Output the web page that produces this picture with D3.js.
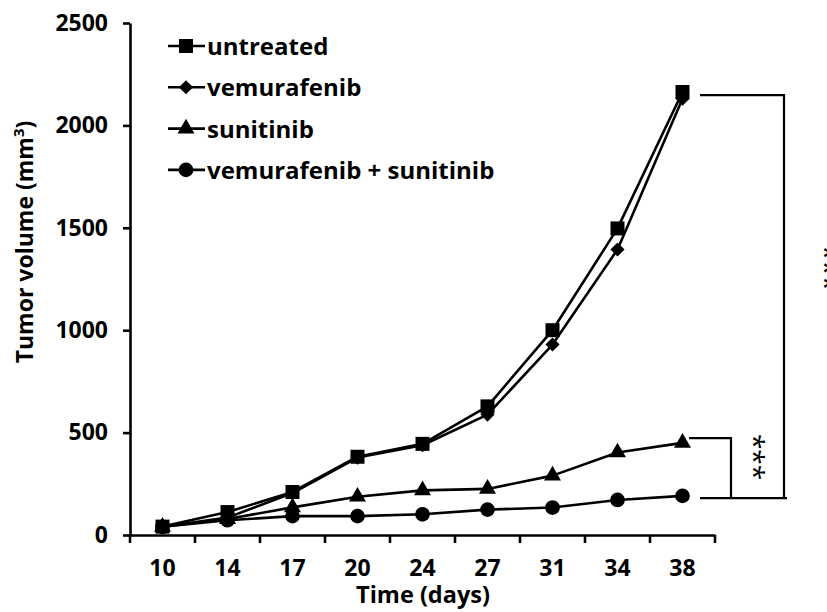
<!DOCTYPE html>
<html>
<head>
<meta charset="utf-8">
<script src="https://cdn.jsdelivr.net/npm/d3@7"></script>
<style>
  html, body { margin: 0; padding: 0; background: #fff; }
  svg { display: block; font-family: "Open Sans", sans-serif; font-weight: bold; }
</style>
</head>
<body>
<svg id="chart" width="827" height="612"></svg>
<script>
// Tumor growth over time per treatment group
const days = ["10", "14", "17", "20", "24", "27", "31", "34", "38"];
const untreated   = [41, 112, 210, 382, 445, 628, 1000, 1497, 2163];
const vemurafenib = [40, 85, 205, 378, 438, 588, 930, 1394, 2130];
const sunitinib   = [40, 78, 135, 187, 218, 225, 290, 403, 450];
const combination = [40, 72, 92, 92, 101, 124, 134, 171, 191];
const seriesNames = ["untreated", "vemurafenib", "sunitinib", "vemurafenib + sunitinib"];
const markerTypes = ["square", "diamond", "triangle", "circle"];
const yTicks = [0, 500, 1000, 1500, 2000, 2500];
// Significance brackets (in mm³ units)
const outerBracket = { top: 2148, bottom: 180, label: "***" };
const innerBracket = { top: 473, bottom: 180, label: "***" };

const seriesValues = [untreated, vemurafenib, sunitinib, combination];

const svg = d3.select("#chart");
const plotLeft = 130, plotRight = 715, plotTop = 23, plotBottom = 535;
const FONT = "'Open Sans', sans-serif";

const x = d3.scaleBand().domain(days).range([plotLeft, plotRight]).padding(0);
const y = d3.scaleLinear().domain([0, 2500]).range([plotBottom, plotTop]);
const cx = d => x(d) + x.bandwidth() / 2;

// marker shapes; the diamond is a square turned by 45 degrees
const markerDefs = {
  square:   { path: d3.symbol(d3.symbolSquare, 196)(), rot: 0 },
  diamond:  { path: d3.symbol(d3.symbolSquare, 100)(), rot: 45 },
  triangle: { path: d3.symbol(d3.symbolTriangle, 125)(), rot: 0 },
  circle:   { path: d3.symbol(d3.symbolCircle, 170)(), rot: 0 }
};

// Axes
const yAxis = svg.append("g")
  .attr("transform", `translate(${plotLeft},0)`)
  .call(d3.axisLeft(y).tickValues(yTicks).tickFormat(d3.format("d"))
    .tickSize(7).tickSizeOuter(0).tickPadding(15));
yAxis.select(".domain").attr("stroke", "#000").attr("stroke-width", 2.6);
yAxis.selectAll(".tick line").attr("stroke", "#000").attr("stroke-width", 2.6);
yAxis.selectAll(".tick text")
  .attr("fill", "#000").style("font-size", "23px").style("font-family", FONT).style("font-weight", "bold");

const xAxis = svg.append("g")
  .attr("transform", `translate(0,${plotBottom})`)
  .call(d3.axisBottom(x).tickSize(0).tickSizeOuter(0).tickPadding(25));
xAxis.select(".domain").attr("stroke", "#000").attr("stroke-width", 2.6);
xAxis.selectAll(".tick text")
  .attr("fill", "#000").style("font-size", "23px").style("font-family", FONT).style("font-weight", "bold");
// tick marks on category boundaries
const boundaries = days.map(d => x(d)).concat([x.range()[1]]);
xAxis.selectAll(".boundary")
  .data(boundaries)
  .enter().append("line")
  .attr("x1", d => d).attr("x2", d => d)
  .attr("y1", 0).attr("y2", 8)
  .attr("stroke", "#000").attr("stroke-width", 2.6);

// Axis titles
svg.append("text")
  .attr("x", 423).attr("y", 603)
  .attr("text-anchor", "middle")
  .style("font-size", "23.5px")
  .text("Time (days)");

const yTitle = svg.append("text")
  .attr("transform", `translate(33,242) rotate(-90)`)
  .attr("text-anchor", "middle")
  .style("font-size", "23px");
yTitle.append("tspan").text("Tumor volume (mm");
yTitle.append("tspan").attr("dy", -9).style("font-size", "15px").text("3");
yTitle.append("tspan").attr("dy", 9).text(")");

// Series lines and markers (drawn back to front so "untreated" is on top)
const line = d3.line().x((v, i) => cx(days[i])).y(v => y(v));
const order = [3, 2, 1, 0];
order.forEach(si => {
  const vals = seriesValues[si];
  const m = markerDefs[markerTypes[si]];
  const g = svg.append("g").attr("class", "series");
  g.append("path")
    .attr("d", line(vals))
    .attr("fill", "none").attr("stroke", "#000").attr("stroke-width", 2.6)
    .attr("stroke-linejoin", "round");
  g.selectAll("path.marker")
    .data(vals)
    .enter().append("path")
    .attr("class", "marker")
    .attr("d", m.path)
    .attr("transform", (v, i) => `translate(${cx(days[i])},${y(v)}) rotate(${m.rot})`)
    .attr("fill", "#000");
});

// Legend
const legend = svg.append("g");
seriesNames.forEach((name, i) => {
  const ly = 46 + i * 41.3;
  const m = markerDefs[markerTypes[i]];
  legend.append("line")
    .attr("x1", 168).attr("x2", 205).attr("y1", ly).attr("y2", ly)
    .attr("stroke", "#000").attr("stroke-width", 2.6);
  legend.append("path")
    .attr("d", m.path)
    .attr("transform", `translate(186,${ly}) rotate(${m.rot})`)
    .attr("fill", "#000");
  legend.append("text")
    .attr("x", 207).attr("y", ly + 9)
    .style("font-size", "24px")
    .text(name);
});

// Significance brackets
const br = svg.append("g").attr("stroke", "#000").attr("stroke-width", 2.2).attr("fill", "none");
const ob = [700, 784, 787];
br.append("polyline")
  .attr("points", `${ob[0]},${y(outerBracket.top)} ${ob[1]},${y(outerBracket.top)} ${ob[1]},${y(outerBracket.bottom)}`);
br.append("line")
  .attr("x1", ob[0]).attr("x2", ob[2])
  .attr("y1", y(outerBracket.bottom)).attr("y2", y(outerBracket.bottom));
br.append("polyline")
  .attr("points", `689,${y(innerBracket.top)} 731,${y(innerBracket.top)} 731,${y(innerBracket.bottom)}`);

svg.append("text")
  .attr("transform", `translate(744,457) rotate(90)`)
  .attr("text-anchor", "middle")
  .style("font-size", "28px").style("font-weight", "normal")
  .text(innerBracket.label);
svg.append("text")
  .attr("transform", `translate(815,268) rotate(90)`)
  .attr("text-anchor", "middle")
  .style("font-size", "28px").style("font-weight", "normal")
  .text(outerBracket.label);
</script>
</body>
</html>
